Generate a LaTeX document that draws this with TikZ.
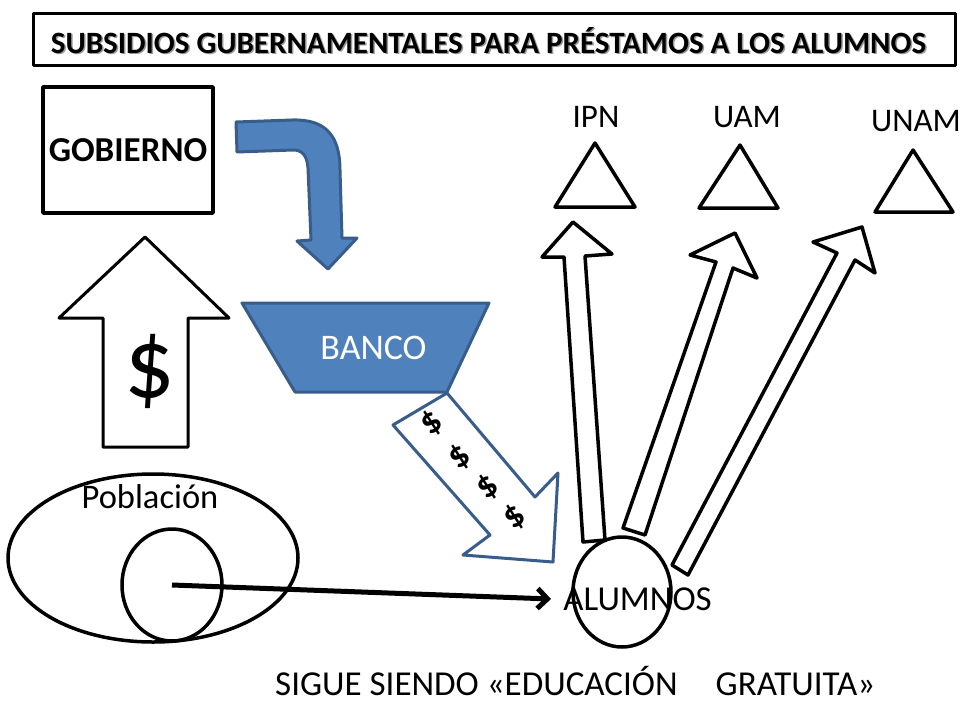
\documentclass[tikz,border=0pt]{standalone}
\usepackage{fontspec}
\setmainfont{Carlito}
\usetikzlibrary{arrows.meta,shapes.geometric}
\definecolor{bfill}{RGB}{79,129,189}
\definecolor{bline}{RGB}{56,93,138}
\begin{document}
\begin{tikzpicture}[x=1pt,y=-1pt,line join=round,
  blk/.style={draw=black,line width=3.5pt,fill=white},
  bluesolid/.style={draw=bline,line width=3pt,fill=bfill},
  bluehollow/.style={draw=bline,line width=3pt,fill=white},
  lbl/.style={inner sep=0pt,anchor=base,font=\fontsize{33}{33}\selectfont},
  money/.style={inner sep=0pt,font=\fontsize{36}{36}\selectfont\bfseries,rotate=38}]
\useasboundingbox (0,0) rectangle (964,702);
\fill[white] (0,0) rectangle (964,702);
% title
\node[draw,line width=3pt,minimum width=922pt,minimum height=52pt,inner sep=0pt] (titlebox) at (494,39) {};
\node[lbl,text=black!40,font=\fontsize{31}{31}\selectfont\bfseries] (titleshadow) at (490,54.5) {SUBSIDIOS GUBERNAMENTALES PARA PRÉSTAMOS A LOS ALUMNOS};
\node[lbl,font=\fontsize{31}{31}\selectfont\bfseries] (title) at (488.5,53) {SUBSIDIOS GUBERNAMENTALES PARA PRÉSTAMOS A LOS ALUMNOS};
% gobierno
\node[draw,line width=3.5pt,minimum width=170pt,minimum height=126pt,inner sep=0pt,font=\fontsize{35}{35}\selectfont\bfseries] (gob) at (128,150) {GOBIERNO};
% up arrow with $
\draw[blk,line width=3pt] (145,237) -- (229,318) -- (188,318) -- (188,447) -- (103,447) -- (103,318) -- (59,318) -- cycle;
\node[inner sep=0pt,font=\fontsize{100}{100}\selectfont] (bigdollar) at (150,371) {\$};
% curved blue arrow
\draw[bluesolid] (236,122) -- (292,120) .. controls (325,119) and (340,135) .. (340,170)
  -- (342,238) -- (357,238) -- (328,269) -- (297,241) -- (311,240) -- (308,168)
  .. controls (307,155) and (302,150) .. (293,150) -- (237,152) -- cycle;
% diagonal hollow blue arrow
\draw[bluehollow] (393,425) -- (447,393) -- (535,497) -- (558,473) -- (553,562) -- (463,555) -- (490,535) -- cycle;
\node[money] (d1) at (432,423) {\$};
\node[money] (d2) at (460,457) {\$};
\node[money] (d3) at (488,487) {\$};
\node[money] (d4) at (515,517) {\$};
% banco trapezoid
\draw[bluesolid] (242,303) -- (489,303) -- (447,392) -- (295,392) -- cycle;
\node[inner sep=0pt,text=white,font=\fontsize{36}{36}\selectfont] (banco) at (373.5,347.5) {BANCO};
% triangles
\draw[blk,fill=none] (595,143) -- (635,207) -- (555,207) -- cycle;
\draw[blk,fill=none] (740,145) -- (778,208) -- (699,208) -- cycle;
\draw[blk,fill=none] (913,150) -- (953,212) -- (875,212) -- cycle;
\node[lbl] (ipn) at (596,127) {IPN};
\node[lbl] (uam) at (747,127) {UAM};
\node[lbl] (unam) at (916,131) {UNAM};
% hollow arrows
\draw[blk] (583,542) -- (564,257) -- (542,257) -- (573,222) -- (612,254) -- (585,256) -- (605,540) -- cycle;
\draw[blk] (623,528) -- (716,262) -- (690,255) -- (735,233) -- (757,278) -- (733,268) -- (645,535) -- cycle;
\draw[blk] (672,565) -- (837,253) -- (813,242) -- (862,227) -- (875,273) -- (855,260) -- (688,575) -- cycle;
% alumnos
\node[draw,ellipse,line width=3.5pt,minimum width=98pt,minimum height=110pt,inner sep=0pt] (alumc) at (622,592) {};
\node[lbl,font=\fontsize{35}{35}\selectfont] (alumnos) at (637.5,610) {ALUMNOS};
% poblacion
\node[draw,ellipse,line width=3.5pt,minimum width=290pt,minimum height=168pt,inner sep=0pt] (pob) at (153,558) {};
\node[draw,ellipse,line width=3.5pt,minimum width=100pt,minimum height=112pt,inner sep=0pt] (inner) at (172,585) {};
\node[lbl,font=\fontsize{34.5}{34.5}\selectfont] (pobtext) at (150,508) {Población};
\coordinate (arrowend) at (551,599);
\draw[line width=5pt,-{Straight Barb[length=10pt,width=20pt]}] (inner.center) -- (arrowend);
% bottom text
\node[lbl,anchor=base west,font=\fontsize{35}{35}\selectfont] (bottom) at (275,695) {SIGUE SIENDO «EDUCACIÓN\hspace{38pt}GRATUITA»};
\end{tikzpicture}
\end{document}
